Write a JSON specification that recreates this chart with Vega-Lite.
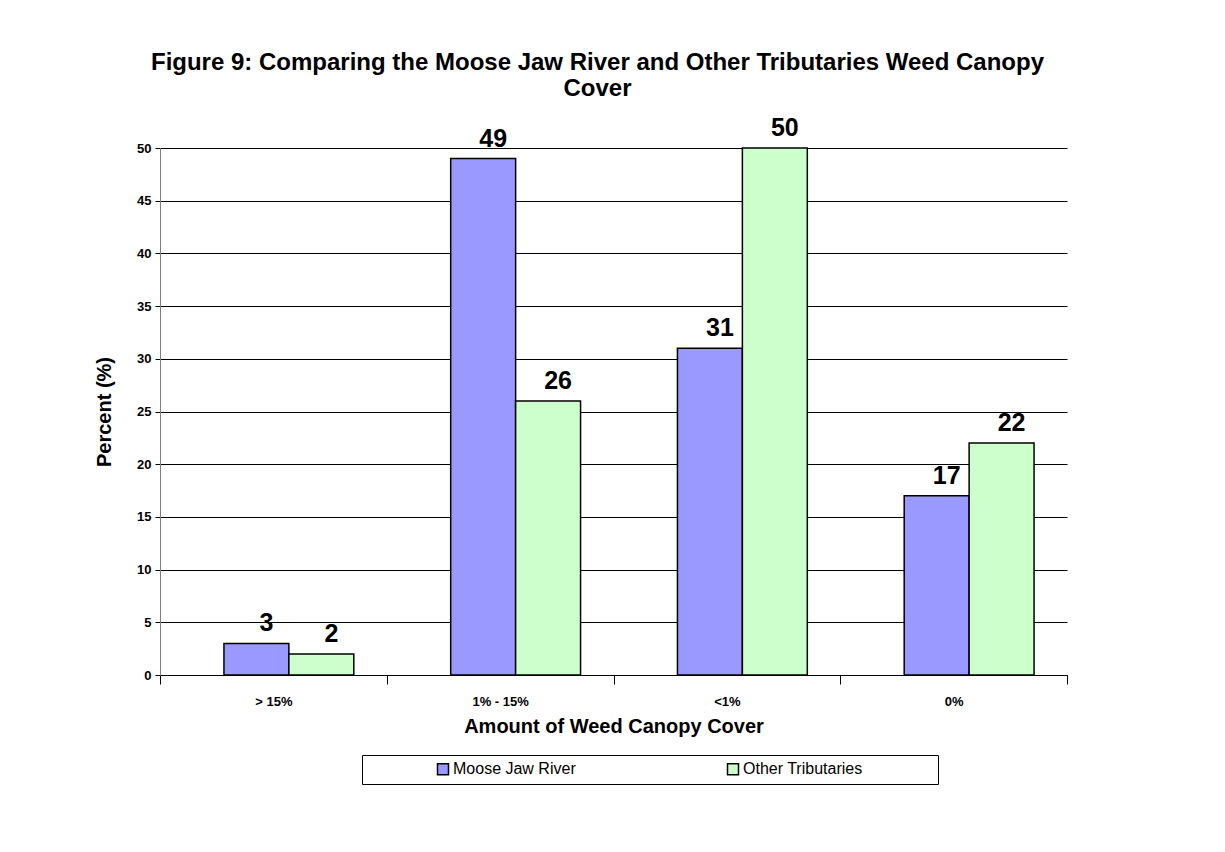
{
  "$schema": "https://vega.github.io/schema/vega-lite/v6.json",
  "autosize": {"type": "none"},
  "padding": {"left": 160, "top": 148, "right": 158, "bottom": 177},
  "width": 907,
  "height": 527,
  "background": "white",
  "config": {
    "font": "Liberation Sans",
    "view": {"stroke": null}
  },
  "title": {
    "text": ["Figure 9: Comparing the Moose Jaw River and Other Tributaries Weed Canopy", "Cover"],
    "font": "Liberation Sans",
    "fontSize": 24,
    "fontWeight": "bold",
    "color": "black",
    "anchor": "middle",
    "offset": 15,
    "dx": -16,
    "lineHeight": 26
  },
  "data": {
    "values": [
      {"category": "> 15%", "series": "Moose Jaw River", "value": 3},
      {"category": "> 15%", "series": "Other Tributaries", "value": 2},
      {"category": "1% - 15%", "series": "Moose Jaw River", "value": 49},
      {"category": "1% - 15%", "series": "Other Tributaries", "value": 26},
      {"category": "<1%", "series": "Moose Jaw River", "value": 31},
      {"category": "<1%", "series": "Other Tributaries", "value": 50},
      {"category": "0%", "series": "Moose Jaw River", "value": 17},
      {"category": "0%", "series": "Other Tributaries", "value": 22}
    ]
  },
  "encoding": {
    "x": {
      "field": "category",
      "type": "nominal",
      "sort": ["> 15%", "1% - 15%", "<1%", "0%"],
      "scale": {"paddingInner": 0, "paddingOuter": 0},
      "axis": {
        "title": "Amount of Weed Canopy Cover",
        "titleFont": "Liberation Sans",
        "titleFontSize": 20,
        "titleFontWeight": "bold",
        "titleColor": "black",
        "titlePadding": 8,
        "labelAngle": 0,
        "labelFont": "Liberation Sans",
        "labelFontSize": 13,
        "labelFontWeight": "bold",
        "labelColor": "black",
        "labelPadding": 11,
        "tickBand": "extent",
        "tickSize": 9,
        "tickColor": "black",
        "domainColor": "black",
        "grid": false
      }
    },
    "xOffset": {
      "field": "series",
      "type": "nominal",
      "sort": ["Moose Jaw River", "Other Tributaries"],
      "scale": {"paddingInner": 0, "paddingOuter": 0.746, "align": 0.66}
    },
    "y": {
      "field": "value",
      "type": "quantitative",
      "scale": {"domain": [0, 50], "nice": false},
      "axis": {
        "title": "Percent (%)",
        "titleFont": "Liberation Sans",
        "titleFontSize": 20,
        "titleFontWeight": "bold",
        "titleColor": "black",
        "titlePadding": 22,
        "values": [0, 5, 10, 15, 20, 25, 30, 35, 40, 45, 50],
        "labelFont": "Liberation Sans",
        "labelFontSize": 13,
        "labelFontWeight": "bold",
        "labelColor": "black",
        "labelPadding": 4,
        "tickSize": 5,
        "tickColor": "black",
        "domainColor": "#808080",
        "grid": true,
        "gridColor": "black",
        "gridWidth": 1
      }
    }
  },
  "layer": [
    {
      "mark": {"type": "bar", "stroke": "black", "strokeWidth": 1.5},
      "encoding": {
        "color": {
          "field": "series",
          "type": "nominal",
          "scale": {"domain": ["Moose Jaw River", "Other Tributaries"], "range": ["#9999FF", "#CCFFCC"]},
          "legend": {
            "title": " ",
            "titleOrient": "right",
            "titlePadding": 70,
            "orient": "none",
            "legendX": 202,
            "legendY": 607,
            "direction": "horizontal",
            "strokeColor": "black",
            "fillColor": "white",
            "padding": 6,
            "symbolOffset": 67,
            "columnPadding": 82,
            "labelOffset": 2,
            "symbolType": "square",
            "symbolSize": 121,
            "symbolStrokeColor": "black",
            "symbolStrokeWidth": 1.5,
            "labelFont": "Liberation Sans",
            "labelFontSize": 16,
            "labelColor": "black"
          }
        }
      }
    },
    {
      "mark": {"type": "text", "baseline": "bottom", "align": "center", "dx": 10, "dy": -7, "fontSize": 25, "fontWeight": "bold", "font": "Liberation Sans", "color": "black"},
      "encoding": {
        "text": {"field": "value", "type": "quantitative"}
      }
    }
  ]
}
